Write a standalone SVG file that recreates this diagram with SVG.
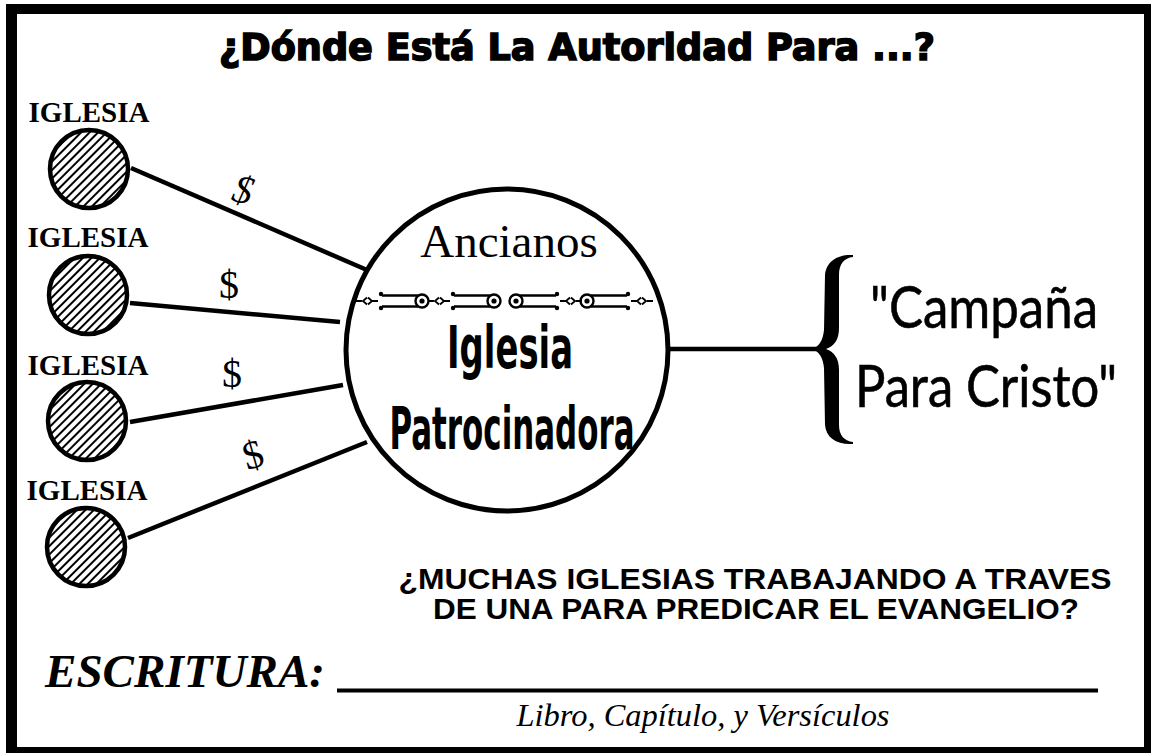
<svg xmlns="http://www.w3.org/2000/svg" width="1151" height="753" viewBox="0 0 1151 753">
<style>
.iglesia{font-family:"Liberation Serif","Times New Roman",serif;font-weight:bold;font-size:29px;fill:#000;text-anchor:middle}
.dollar{font-family:"Liberation Serif","Times New Roman",serif;font-size:40px;fill:#000;text-anchor:middle}
.conn{stroke:#000;stroke-width:4.5;fill:none}
.small{fill:url(#hatch);stroke:#000;stroke-width:4.5}
.hand{font-family:"Liberation Sans Narrow","DejaVu Sans Condensed","DejaVu Sans",sans-serif;font-weight:bold;font-size:58px;fill:#000;text-anchor:middle}
.camp{font-family:Lato,"Liberation Sans",sans-serif;font-size:58px;fill:#000;stroke:#000;stroke-width:0.6}
.q{font-family:"Liberation Sans",Arial,sans-serif;font-weight:bold;font-size:30px;fill:#000;text-anchor:middle}
</style>
<defs>
<pattern id="hatch" patternUnits="userSpaceOnUse" width="6" height="6" patternTransform="rotate(45)">
<rect width="6" height="6" fill="#fff"/>
<line x1="1" y1="0" x2="1" y2="6" stroke="#000" stroke-width="2"/>
</pattern>
<g id="orn" fill="none" stroke="#000" stroke-width="2.4">
<circle cx="0" cy="0" r="6.5"/>
<circle cx="0" cy="0" r="2.6" fill="#000" stroke="none"/>
<path d="M-40,-5.5 L-4,-5.5 M-40,5.5 L-4,5.5"/>
<circle cx="-41" cy="-7" r="2.2" fill="#000" stroke="none"/>
<circle cx="-41" cy="7" r="2.2" fill="#000" stroke="none"/>
<path d="M-66,0 L-60,0 M-55,-3.5 L-59,0 L-55,3.5 M-54,-3.5 L-50,0 L-54,3.5 M-50,0 L-44,0" stroke-width="1.8"/>
</g>
</defs>
<rect width="1151" height="753" fill="#fff"/>
<path d="M6,4 H1151 V753 H6 Z M17,14 V747 H1144 V14 Z" fill="#000" fill-rule="evenodd"/>
<text x="577" y="60" text-anchor="middle" font-family="'DejaVu Sans','Liberation Sans',sans-serif" font-weight="bold" font-size="38" stroke="#000" stroke-width="1.6" textLength="716" lengthAdjust="spacingAndGlyphs">¿Dónde Está La Autoridad Para ...?</text>
<g id="connectors">
<line class="conn" x1="131" y1="168" x2="367" y2="270"/>
<line class="conn" x1="130" y1="303" x2="340" y2="322"/>
<line class="conn" x1="130" y1="422" x2="343" y2="385"/>
<line class="conn" x1="128" y1="538" x2="367" y2="442"/>
<line class="conn" x1="670" y1="349" x2="818" y2="349"/>
<text class="dollar" x="243" y="203" font-style="italic" transform="rotate(14 243 190)">$</text>
<text class="dollar" x="229" y="298">$</text>
<text class="dollar" x="232" y="387">$</text>
<text class="dollar" x="253" y="468" transform="rotate(-16 253 455)">$</text>
</g>
<g id="iglesia1">
<text class="iglesia" x="89" y="122">IGLESIA</text>
<circle class="small" cx="89" cy="169" r="39"/>
</g>
<g id="iglesia2">
<text class="iglesia" x="88" y="247">IGLESIA</text>
<circle class="small" cx="88" cy="295" r="39"/>
</g>
<g id="iglesia3">
<text class="iglesia" x="88" y="375">IGLESIA</text>
<circle class="small" cx="87" cy="421" r="39"/>
</g>
<g id="iglesia4">
<text class="iglesia" x="87" y="500">IGLESIA</text>
<circle class="small" cx="86" cy="547" r="39"/>
</g>
<g id="patrocinadora">
<circle cx="507" cy="350" r="161" fill="none" stroke="#000" stroke-width="5"/>
<text x="509" y="257" font-family="'Liberation Serif','Times New Roman',serif" font-size="47" text-anchor="middle">Ancianos</text>
<use href="#orn" transform="translate(422,301)"/>
<use href="#orn" transform="translate(494,301)"/>
<use href="#orn" transform="translate(516,301) scale(-1,1)"/>
<use href="#orn" transform="translate(587,301) scale(-1,1)"/>
<text class="hand" x="510" y="368" textLength="126" lengthAdjust="spacingAndGlyphs">Iglesia</text>
<text class="hand" x="512" y="449" textLength="245" lengthAdjust="spacingAndGlyphs">Patrocinadora</text>
</g>
<g id="campana">
<path d="M853,255 C837,254 826,262 825,275 L824,330 C823,340 819,347 812,349 C819,351 823,358 824,368 L825,425 C826,438 837,445 853,444 L853,442 C844,441 839,435 839,425 L839,370 C839,358 834,352 826,349 C834,346 839,340 839,328 L839,275 C839,264 844,258 853,257 Z" fill="#000"/>
<text class="camp" x="870" y="328" textLength="228" lengthAdjust="spacingAndGlyphs">"Campaña</text>
<text class="camp" x="855" y="407" textLength="262" lengthAdjust="spacingAndGlyphs">Para Cristo"</text>
</g>
<g id="pregunta">
<text class="q" x="755" y="589" textLength="713" lengthAdjust="spacingAndGlyphs">¿MUCHAS IGLESIAS TRABAJANDO A TRAVES</text>
<text class="q" x="756" y="619" textLength="646" lengthAdjust="spacingAndGlyphs">DE UNA PARA PREDICAR EL EVANGELIO?</text>
</g>
<g id="escritura">
<text x="45" y="687" font-family="'Liberation Serif','Times New Roman',serif" font-weight="bold" font-style="italic" font-size="47" textLength="280" lengthAdjust="spacingAndGlyphs">ESCRITURA:</text>
<line x1="337" y1="690.5" x2="1098" y2="690.5" stroke="#000" stroke-width="4"/>
<text x="703" y="726" font-family="'Liberation Serif','Times New Roman',serif" font-style="italic" font-size="32" text-anchor="middle" textLength="373" lengthAdjust="spacingAndGlyphs">Libro, Capítulo, y Versículos</text>
</g>
</svg>
